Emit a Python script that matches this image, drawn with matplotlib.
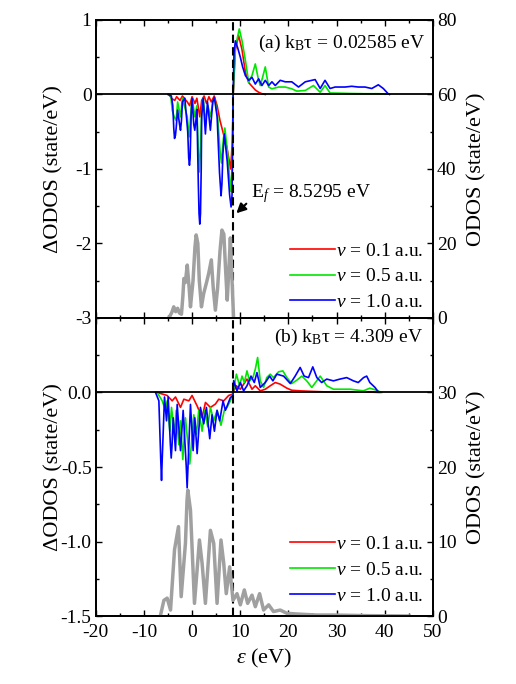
import numpy as np
import matplotlib
matplotlib.use("Agg")
import matplotlib.pyplot as plt
from matplotlib.ticker import MultipleLocator

# Datos (panel a: kBT = 0.02585 eV)
ef = 8.5295

a_rojo_x = [-4.8, -4.3, -3.6, -3.2, -2.5, -2.0, -1.0, -0.5, 0.0, 0.6, 1.0, 1.6, 2.0, 2.5, 3.0, 3.5, 4.0,
            4.6, 5.2, 5.8, 6.6, 7.2, 8.0, 8.4, 8.53, 8.99, 9.67, 10.37, 11.06, 11.75, 12.44, 13.13,
            13.82, 14.5, 15.2]
a_rojo_y = [0.0, -0.05, -0.08, -0.03, -0.08, -0.02, -0.1, -0.15, -0.03, -0.12, -0.05, -0.3, -0.08, -0.02,
            -0.12, -0.03, -0.1, -0.02, -0.15, -0.35, -0.55, -0.7, -1.0, -0.6, 0.0, 0.6, 0.79, 0.6, 0.3,
            0.16, 0.11, 0.06, 0.03, 0.01, 0.0]

a_verde_x = [-5.0, -4.4, -4.13, -3.7, -3.3, -3.0, -2.4, -2.0, -1.0, -0.6, -0.2, 0.0, 0.6, 1.0, 1.3, 1.5,
             1.7, 2.0, 2.3, 2.8, 3.3, 3.8, 4.3, 4.7, 5.3, 5.8, 6.1, 6.5, 6.8, 7.4, 7.9, 8.1, 8.3, 8.53,
             8.99, 9.8, 10.37, 11.06, 11.75, 12.44, 13.13, 13.68, 14.16, 14.64, 15.2, 15.9, 16.58,
             17.96, 19.34, 20.7, 21.75, 23.5, 25.2, 26.6, 27.6, 28.65, 30.4, 33.1, 35.9, 38.7, 40.7]
a_verde_y = [0.0, -0.02, -0.21, -0.3, -0.35, -0.1, -0.3, -0.05, -0.3, -0.57, -0.2, -0.05, -0.3, -0.15,
             -0.75, -1.04, -0.8, -0.2, -0.05, -0.35, -0.15, -0.3, -0.1, -0.05, -0.3, -0.75, -0.92,
             -0.6, -0.45, -0.8, -1.2, -1.3, -1.0, 0.0, 0.635, 0.88, 0.72, 0.46, 0.165, 0.255, 0.41,
             0.23, 0.12, 0.23, 0.37, 0.1, 0.076, 0.1, 0.1, 0.076, 0.045, 0.054, 0.12, 0.03, 0.12, 0.02,
             0.018, 0.013, 0.01, 0.01, 0.005]

a_azul_x = [-5.0, -4.3, -4.0, -3.8, -3.64, -3.45, -3.3, -3.0, -2.6, -2.4, -2.2, -2.0, -1.5, -0.9, -0.7,
            -0.54, -0.4, -0.2, 0.0, 0.35, 0.56, 0.8, 1.0, 1.3, 1.45, 1.6, 1.75, 1.9, 2.0, 2.3, 2.77,
            3.2, 3.8, 4.3, 4.64, 5.2, 5.7, 6.02, 6.2, 6.4, 6.7, 7.3, 7.8, 8.1, 8.3, 8.4, 8.53, 8.7,
            8.99, 9.5, 10.02, 10.5, 11.06, 11.75, 12.44, 13.13, 13.82, 14.5, 15.2, 15.9, 16.58, 17.27,
            18.3, 19.34, 20.7, 22.1, 23.5, 24.86, 25.55, 26.6, 27.6, 28.65, 29.7, 31.76, 33.14, 34.5,
            35.9, 37.3, 38.66, 39.7, 40.7, 41.0]
a_azul_y = [0.0, -0.02, -0.15, -0.45, -0.59, -0.55, -0.45, -0.21, -0.4, -0.48, -0.35, -0.1, -0.05, -0.5,
            -0.85, -0.95, -0.85, -0.3, -0.05, -0.4, -0.48, -0.35, -0.2, -1.2, -1.6, -1.74, -1.6, -1.0,
            -0.3, -0.05, -0.53, -0.1, -0.48, -0.1, -0.04, -0.3, -1.05, -1.36, -1.2, -0.8, -0.53, -0.9,
            -1.35, -1.51, -1.35, -0.8, 0.0, 0.55, 0.72, 0.62, 0.5, 0.37, 0.255, 0.19, 0.23, 0.14, 0.21,
            0.12, 0.19, 0.12, 0.17, 0.12, 0.19, 0.17, 0.17, 0.1, 0.17, 0.19, 0.2, 0.08, 0.19, 0.08,
            0.1, 0.1, 0.11, 0.1, 0.1, 0.08, 0.13, 0.08, 0.01, 0.0]

a_odos_x = [-4.8, -4.2, -3.8, -3.4, -3.0, -2.6, -2.2, -1.9, -1.7, -1.4, -1.0, -0.6, -0.33, 0.2, 0.6,
            0.85, 1.2, 1.5, 1.95, 2.4, 3.0, 3.46, 4.0, 4.4, 4.84, 5.3, 5.8, 6.2, 6.6, 7.0, 7.3, 7.6,
            7.95, 8.3, 8.6]
a_odos_y = [0.0, 1.5, 3.0, 1.7, 2.6, 1.3, 1.0, 6.0, 10.6, 9.5, 14.2, 8.0, 3.0, 10.0, 19.0, 22.3, 20.0,
            10.0, 3.0, 6.5, 9.5, 12.0, 15.6, 8.0, 2.1, 8.0, 18.0, 23.6, 22.5, 12.0, 4.8, 12.0, 21.5,
            10.0, 0.5]

# Datos del panel b: kBT = 4.309 eV
b_rojo_x = [-7.23, -5.17, -4.13, -3.44, -2.4, -1.7, -0.67, 0.0, 1.05, 2.08, 2.78, 3.81, 4.84, 5.54,
            6.57, 7.6, 8.5, 8.64, 9.2, 10.02, 11.4, 12.44, 13.13, 14.16, 15.2, 16.23, 17.27, 18.3,
            19.68, 20.7, 22.44, 25.2, 29.35, 33.5, 37.6, 39.0]
b_rojo_y = [0.0, -0.02, -0.056, -0.03, -0.1, -0.045, -0.056, -0.02, -0.09, -0.17, -0.067, -0.1, -0.078,
            -0.045, -0.056, -0.02, -0.01, 0.011, 0.045, 0.022, 0.09, 0.022, 0.045, 0.011, 0.022, 0.045,
            0.067, 0.056, 0.029, 0.015, 0.011, 0.007, 0.002, 0.004, 0.002, 0.0]

b_verde_x = [-7.23, -6.2, -5.5, -5.17, -4.61, -4.27, -3.64, -3.3, -2.75, -2.4, -1.92, -1.37, -0.47,
             0.36, 0.91, 1.39, 2.08, 2.64, 3.26, 3.81, 4.5, 5.19, 6.0, 6.7, 7.26, 7.95, 8.5, 8.64,
             9.2, 9.88, 10.37, 10.85, 11.4, 11.95, 12.64, 13.13, 13.61, 14.16, 14.85, 15.5, 16.23,
             16.9, 17.96, 18.85, 19.68, 20.7, 21.75, 22.8, 23.8, 24.86, 26.6, 27.96, 29.35, 32.8,
             35.55, 36.9, 38.3, 39.35]
b_verde_y = [0.0, -0.056, -0.12, -0.056, -0.26, -0.1, -0.28, -0.12, -0.35, -0.19, -0.45, -0.17, -0.48,
             -0.15, -0.28, -0.12, -0.26, -0.12, -0.23, -0.1, -0.19, -0.12, -0.22, -0.12, -0.1, -0.056,
             -0.01, 0.022, 0.123, 0.045, 0.11, 0.067, 0.145, 0.078, 0.1, 0.157, 0.235, 0.078, 0.034,
             0.1, 0.123, 0.1, 0.139, 0.145, 0.1, 0.06, 0.083, 0.11, 0.078, 0.034, 0.11, 0.045, 0.022,
             0.022, 0.011, 0.029, 0.015, 0.0]

b_azul_x = [-7.58, -6.89, -6.5, -6.34, -6.2, -5.72, -5.3, -4.96, -4.5, -4.33, -4.15, -3.92, -3.44,
            -3.09, -2.4, -1.85, -1.2, -1.02, -0.85, -0.33, 0.22, 0.57, 1.05, 1.74, 2.43, 2.98, 3.67,
            4.15, 4.64, 5.19, 5.74, 6.43, 6.92, 7.95, 8.5, 8.64, 9.33, 10.02, 10.7, 11.4, 12.23, 12.92,
            13.47, 14.16, 15.2, 16.1, 16.78, 17.6, 19.0, 20.4, 21.4, 22.44, 23.27, 24.17, 25.06, 25.9,
            26.9, 27.96, 29.35, 30.7, 32.1, 33.5, 34.5, 35.6, 36.25, 36.9, 37.97, 38.66]
b_azul_y = [0.0, -0.056, -0.45, -0.59, -0.45, -0.03, -0.19, -0.03, -0.35, -0.44, -0.35, -0.17, -0.39,
            -0.08, -0.39, -0.12, -0.5, -0.64, -0.5, -0.08, -0.39, -0.17, -0.41, -0.1, -0.21, -0.1,
            -0.31, -0.15, -0.26, -0.12, -0.19, -0.056, -0.12, -0.034, -0.02, 0.08, 0.011, 0.067, 0.011,
            0.045, 0.11, 0.067, 0.134, 0.034, 0.067, 0.11, 0.078, 0.123, 0.11, 0.06, 0.11, 0.168,
            0.11, 0.1, 0.172, 0.1, 0.067, 0.09, 0.078, 0.09, 0.1, 0.078, 0.067, 0.1, 0.11, 0.067,
            0.034, 0.004]

b_odos_x = [-6.54, -5.85, -5.17, -4.47, -3.64, -2.82, -2.26, -1.37, -1.05, -0.88, -0.33, 0.5, 1.53,
            2.08, 2.77, 3.81, 4.5, 5.19, 6.0, 6.57, 7.1, 7.8, 8.5, 9.33, 10.02, 10.85, 11.54, 12.44,
            13.13, 14.02, 14.85, 15.9, 16.9, 18.3, 19.68, 21.75, 25.9, 29.35, 36.25, 45.0]
b_odos_y = [0.13, 2.1, 2.4, 0.8, 8.9, 12.0, 2.6, 9.8, 15.5, 16.9, 14.2, 1.7, 10.2, 7.1, 1.7, 11.5,
            9.75, 1.7, 10.2, 7.1, 3.0, 6.6, 2.1, 3.0, 1.5, 3.5, 1.7, 2.8, 1.25, 3.0, 0.8, 1.5, 0.6,
            0.8, 0.36, 0.27, 0.13, 0.13, 0.05, 0.0]

etiquetas = ["$v$ = 0.1 a.u.", "$v$ = 0.5 a.u.", "$v$ = 1.0 a.u."]
colores = ["#ff0000", "#00e600", "#0000ff"]

# Fuentes tipo Times
plt.rcParams["font.family"] = "Liberation Serif"
plt.rcParams["mathtext.fontset"] = "custom"
plt.rcParams["mathtext.rm"] = "Liberation Serif"
plt.rcParams["mathtext.it"] = "Liberation Serif:italic"
plt.rcParams["axes.unicode_minus"] = False
plt.rcParams["axes.linewidth"] = 1.3

fig = plt.figure(figsize=(5.16, 6.84), dpi=100)
ax1 = fig.add_axes([0.1855, 0.5351, 0.6535, 0.4357])
ax2 = fig.add_axes([0.1855, 0.0994, 0.6535, 0.4357])
ax1r = ax1.twinx()
ax2r = ax2.twinx()


def formato_ejes(ax):
    ax.tick_params(which="both", direction="in", top=True, labelsize=14, width=1.0, pad=3)
    ax.tick_params(axis="x", pad=6)
    ax.tick_params(which="major", length=4)
    ax.tick_params(which="minor", length=2.5)
    ax.xaxis.set_major_locator(MultipleLocator(10))
    ax.xaxis.set_minor_locator(MultipleLocator(5))
    ax.set_xlim(-20, 50)


def formato_derecho(ax):
    ax.tick_params(which="both", direction="in", labelsize=14, width=1.0, pad=3)
    ax.tick_params(which="major", length=4)
    ax.tick_params(which="minor", length=2.5)


# Panel a
datos_a = [(a_rojo_x, a_rojo_y), (a_verde_x, a_verde_y), (a_azul_x, a_azul_y)]
for (xs, ys), c, lab in zip(datos_a, colores, etiquetas):
    ax1.plot(xs, ys, color=c, lw=1.2, label=lab, solid_joinstyle="round")
ax1r.plot(a_odos_x, a_odos_y, color="#a0a0a0", lw=2.5, solid_joinstyle="round")
ax1.axhline(0, color="k", lw=1.3, zorder=4)
ax1.axvline(ef, color="k", lw=1.5, ls=(0, (4, 2)), zorder=4)
formato_ejes(ax1)
ax1.tick_params(labelbottom=False)
ax1.set_ylim(-3, 1)
ax1.yaxis.set_major_locator(MultipleLocator(1))
ax1.yaxis.set_minor_locator(MultipleLocator(0.5))
ax1r.set_ylim(0, 80)
ax1r.yaxis.set_major_locator(MultipleLocator(20))
ax1r.yaxis.set_minor_locator(MultipleLocator(10))
formato_derecho(ax1r)

ax1.text(0.976, 0.906, "(a) k$_\\mathrm{B}$τ = 0.02585 eV", transform=ax1.transAxes,
         ha="right", va="baseline", fontsize=14)
ax1.annotate("", xy=(8.78, -1.62), xytext=(11.68, -1.44),
             arrowprops=dict(arrowstyle="-|>", color="k", lw=1.5, mutation_scale=14))
ax1.text(12.24, -1.38, "E$_f$ = 8.5295 eV", ha="left", va="baseline", fontsize=14)
ax1.legend(loc="lower right", bbox_to_anchor=(1.0, -0.01), frameon=False, fontsize=14,
           handlelength=2.3, handletextpad=0.05, labelspacing=0.42, borderaxespad=0.1)

# Panel b
datos_b = [(b_rojo_x, b_rojo_y), (b_verde_x, b_verde_y), (b_azul_x, b_azul_y)]
for (xs, ys), c, lab in zip(datos_b, colores, etiquetas):
    ax2.plot(xs, ys, color=c, lw=1.2, label=lab, solid_joinstyle="round")
ax2r.plot(b_odos_x, b_odos_y, color="#a0a0a0", lw=2.5, solid_joinstyle="round")
ax2.axhline(0, color="k", lw=1.3, zorder=4)
ax2.axvline(ef, color="k", lw=1.5, ls=(0, (4, 2)), zorder=4)
formato_ejes(ax2)
ax2.set_ylim(-1.5, 0.5)
ax2.set_yticks([-1.5, -1.0, -0.5, 0.0])
ax2.set_yticklabels(["-1.5", "-1.0", "-0.5", "0.0"])
ax2.yaxis.set_minor_locator(MultipleLocator(0.25))
ax2r.set_ylim(0, 40)
ax2r.set_yticks([0, 10, 20, 30])
ax2r.yaxis.set_minor_locator(MultipleLocator(5))
formato_derecho(ax2r)

ax2.text(0.969, 0.92, "(b) k$_\\mathrm{B}$τ = 4.309 eV", transform=ax2.transAxes,
         ha="right", va="baseline", fontsize=14)
ax2.legend(loc="lower right", bbox_to_anchor=(1.0, 0.005), frameon=False, fontsize=14,
           handlelength=2.3, handletextpad=0.05, labelspacing=0.42, borderaxespad=0.1)

# Etiquetas de los ejes
for ax in (ax1, ax2):
    ax.set_ylabel("ΔODOS (state/eV)", fontsize=16)
    ax.yaxis.set_label_coords(-0.097, 0.5)
for ax in (ax1r, ax2r):
    ax.set_ylabel("ODOS (state/eV)", fontsize=16)
    ax.yaxis.set_label_coords(1.101, 0.5)
ax2.set_xlabel("$\\varepsilon$ (eV)", fontsize=16)

fig.savefig("out.png", dpi=100)
